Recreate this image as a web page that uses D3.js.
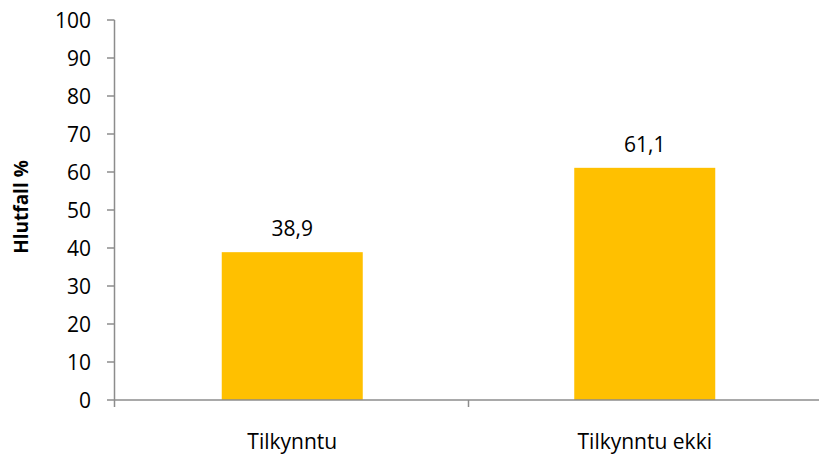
<!DOCTYPE html>
<html>
<head>
<meta charset="utf-8">
<script src="https://cdn.jsdelivr.net/npm/d3@7"></script>
<style>
  body { margin: 0; background: #fff; }
  svg { display: block; }
  text { font-family: "Open Sans", "Noto Sans", sans-serif; fill: #000; }
</style>
</head>
<body>
<script>
// Data
const categories = ["Tilkynntu", "Tilkynntu ekki"];
const values = [38.9, 61.1];
const valueLabels = ["38,9", "61,1"];
const yTicks = [0, 10, 20, 30, 40, 50, 60, 70, 80, 90, 100];

const width = 819;
const height = 456;
const axisColor = "#8c8c8c";
const fs = "21px";

const svg = d3.select("body").append("svg")
  .attr("width", width)
  .attr("height", height);

const y = d3.scaleLinear().domain([0, 100]).range([400, 20]);
const x = d3.scaleBand().domain(categories).range([116, 821]).padding(0);
const barW = x.bandwidth() * 0.4;

// bars
svg.append("g")
  .selectAll("rect")
  .data(values)
  .join("rect")
  .attr("x", (d, i) => x(categories[i]) + (x.bandwidth() - barW) / 2)
  .attr("y", d => y(d))
  .attr("width", barW)
  .attr("height", d => y(0) - y(d))
  .attr("fill", "#FFC000");

// value labels
svg.append("g")
  .selectAll("text")
  .data(values)
  .join("text")
  .attr("x", (d, i) => x(categories[i]) + x.bandwidth() / 2)
  .attr("y", d => y(d) - 16)
  .attr("text-anchor", "middle")
  .style("font-size", fs)
  .text((d, i) => valueLabels[i]);

// y axis
const yAxis = svg.append("g");
yAxis.append("line")
  .attr("x1", 114.5).attr("x2", 114.5)
  .attr("y1", y(100)).attr("y2", y(0) + 7)
  .attr("stroke", axisColor).attr("stroke-width", 1.5);
yAxis.selectAll("line.tick")
  .data(yTicks)
  .join("line")
  .attr("class", "tick")
  .attr("x1", 107).attr("x2", 114.5)
  .attr("y1", d => y(d)).attr("y2", d => y(d))
  .attr("stroke", axisColor).attr("stroke-width", 1.5);
yAxis.selectAll("text")
  .data(yTicks)
  .join("text")
  .attr("x", 91)
  .attr("y", d => y(d))
  .attr("dy", "0.37em")
  .attr("text-anchor", "end")
  .style("font-size", fs)
  .text(d => d);

// x axis
const xAxis = svg.append("g");
xAxis.append("line")
  .attr("x1", 114).attr("x2", 819)
  .attr("y1", y(0)).attr("y2", y(0))
  .attr("stroke", axisColor).attr("stroke-width", 1.5);
xAxis.selectAll("line.tick")
  .data(categories.slice(1))
  .join("line")
  .attr("class", "tick")
  .attr("x1", d => x(d)).attr("x2", d => x(d))
  .attr("y1", y(0)).attr("y2", y(0) + 7)
  .attr("stroke", axisColor).attr("stroke-width", 1.5);
xAxis.selectAll("text")
  .data(categories)
  .join("text")
  .attr("x", d => x(d) + x.bandwidth() / 2)
  .attr("y", 449)
  .attr("text-anchor", "middle")
  .style("font-size", fs)
  .text(d => d);

// y title
svg.append("text")
  .attr("transform", "translate(28,207) rotate(-90)")
  .attr("text-anchor", "middle")
  .style("font-size", "19px")
  .style("font-weight", "bold")
  .text("Hlutfall %");
</script>
</body>
</html>
